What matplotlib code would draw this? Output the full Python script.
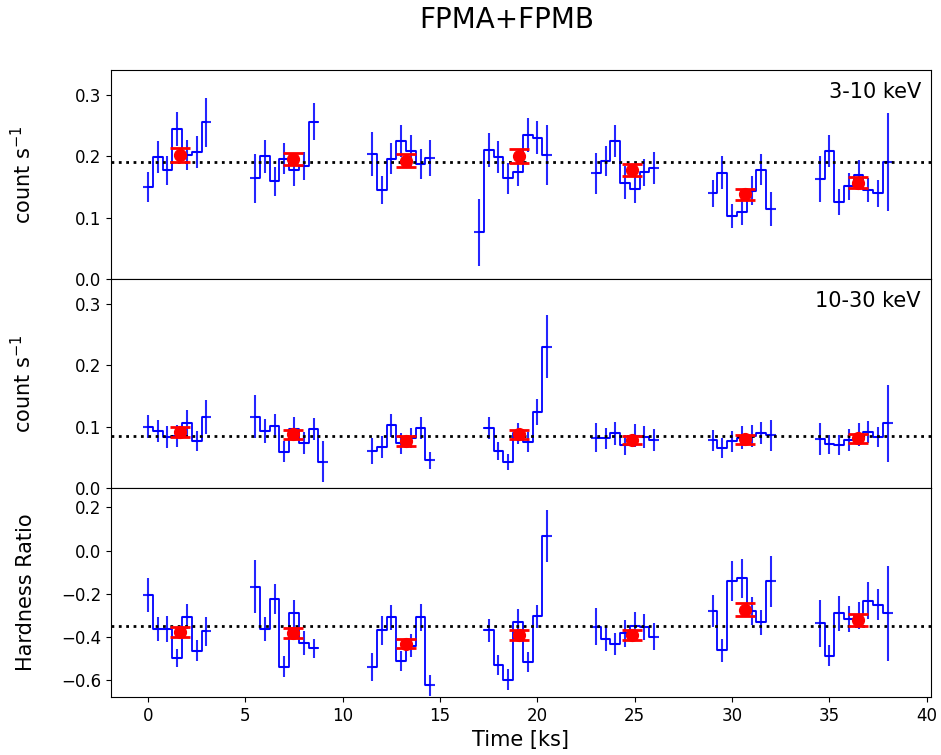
import numpy as np
import matplotlib.pyplot as plt

nan = np.nan

# time bins [ks], one list per orbit
t_bins = [
    [0.0, 0.5, 1.0, 1.5, 2.0, 2.5, 3.0],
    [5.5, 6.0, 6.5, 7.0, 7.5, 8.0, 8.5, 9.0],
    [11.5, 12.0, 12.5, 13.0, 13.5, 14.0, 14.5],
    [17.0, 17.5, 18.0, 18.5, 19.0, 19.5, 20.0, 20.5],
    [23.0, 23.5, 24.0, 24.5, 25.0, 25.5, 26.0],
    [29.0, 29.5, 30.0, 30.5, 31.0, 31.5, 32.0],
    [34.5, 35.0, 35.5, 36.0, 36.5, 37.0, 37.5, 38.0],
]

# 3-10 keV
soft_rate = [
    [0.150, 0.198, 0.177, 0.244, 0.202, 0.207, 0.255],
    [0.164, 0.200, 0.159, 0.196, 0.178, 0.184, 0.256, nan],
    [0.204, 0.145, 0.196, 0.225, 0.208, 0.187, 0.197],
    [0.076, 0.210, 0.198, 0.164, 0.175, 0.235, 0.230, 0.202],
    [0.172, 0.192, 0.225, 0.157, 0.146, 0.174, 0.181],
    [0.140, 0.173, 0.103, 0.109, 0.144, 0.178, 0.114],
    [0.163, 0.208, 0.126, 0.151, 0.170, 0.145, 0.140, 0.191],
]
soft_err = [
    [0.024, 0.026, 0.024, 0.028, 0.025, 0.026, 0.040],
    [0.040, 0.027, 0.023, 0.025, 0.027, 0.023, 0.030, nan],
    [0.036, 0.022, 0.025, 0.026, 0.026, 0.024, 0.030],
    [0.055, 0.027, 0.026, 0.025, 0.024, 0.028, 0.027, 0.049],
    [0.033, 0.025, 0.026, 0.027, 0.022, 0.022, 0.026],
    [0.022, 0.027, 0.020, 0.021, 0.024, 0.025, 0.027],
    [0.037, 0.026, 0.021, 0.022, 0.024, 0.020, 0.022, 0.080],
]

# 10-30 keV
hard_rate = [
    [0.100, 0.093, 0.083, 0.084, 0.106, 0.076, 0.116],
    [0.116, 0.093, 0.101, 0.059, 0.096, 0.073, 0.096, 0.043],
    [0.060, 0.067, 0.102, 0.073, 0.081, 0.098, 0.045],
    [nan, 0.097, 0.060, 0.042, 0.089, 0.075, 0.124, 0.230],
    [0.082, 0.081, 0.089, 0.070, 0.085, 0.083, 0.078],
    [0.078, 0.065, 0.076, 0.082, 0.085, 0.089, 0.086],
    [0.079, 0.071, 0.070, 0.078, 0.087, 0.091, 0.083, 0.105],
]
hard_err = [
    [0.019, 0.018, 0.018, 0.018, 0.021, 0.016, 0.028],
    [0.035, 0.019, 0.019, 0.017, 0.019, 0.018, 0.018, 0.034],
    [0.021, 0.018, 0.019, 0.017, 0.016, 0.018, 0.014],
    [nan, 0.018, 0.015, 0.013, 0.017, 0.016, 0.021, 0.051],
    [0.024, 0.017, 0.019, 0.017, 0.019, 0.018, 0.018],
    [0.017, 0.016, 0.017, 0.019, 0.018, 0.018, 0.025],
    [0.026, 0.016, 0.017, 0.018, 0.018, 0.018, 0.017, 0.062],
]

# hardness ratio
hr = [
    [-0.205, -0.363, -0.363, -0.498, -0.306, -0.464, -0.374],
    [-0.167, -0.363, -0.224, -0.538, -0.291, -0.428, -0.453, nan],
    [-0.538, -0.368, -0.309, -0.510, -0.440, -0.309, -0.623],
    [nan, -0.369, -0.530, -0.597, -0.331, -0.515, -0.303, 0.068],
    [-0.352, -0.410, -0.433, -0.383, -0.348, -0.355, -0.399],
    [-0.278, -0.461, -0.142, -0.128, -0.278, -0.332, -0.142],
    [-0.337, -0.487, -0.291, -0.317, -0.300, -0.232, -0.250, -0.290],
]
hr_err = [
    [0.077, 0.057, 0.062, 0.043, 0.059, 0.048, 0.068],
    [0.124, 0.057, 0.068, 0.049, 0.064, 0.056, 0.045, nan],
    [0.066, 0.067, 0.058, 0.046, 0.053, 0.062, 0.049],
    [nan, 0.054, 0.047, 0.050, 0.060, 0.046, 0.053, 0.121],
    [0.087, 0.056, 0.050, 0.064, 0.066, 0.061, 0.062],
    [0.074, 0.053, 0.093, 0.091, 0.064, 0.058, 0.118],
    [0.107, 0.048, 0.079, 0.060, 0.064, 0.085, 0.073, 0.220],
]

# orbit averages
t_orbit = [1.65, 7.45, 13.25, 19.05, 24.85, 30.65, 36.45]
soft_orbit = [0.202, 0.195, 0.193, 0.200, 0.178, 0.138, 0.157]
soft_orbit_err = [0.011, 0.010, 0.011, 0.011, 0.010, 0.009, 0.009]
hard_orbit = [0.091, 0.0875, 0.077, 0.0875, 0.078, 0.079, 0.081]
hard_orbit_err = [0.0075, 0.0076, 0.008, 0.007, 0.007, 0.007, 0.007]
hr_orbit = [-0.376, -0.382, -0.430, -0.391, -0.391, -0.273, -0.321]
hr_orbit_err = [0.023, 0.023, 0.022, 0.022, 0.023, 0.030, 0.027]

soft_mean = 0.190
hard_mean = 0.085
hr_mean = -0.35

bin_half = 0.25

panels = [
    (soft_rate, soft_err, t_orbit, soft_orbit, soft_orbit_err, soft_mean),
    (hard_rate, hard_err, t_orbit, hard_orbit, hard_orbit_err, hard_mean),
    (hr, hr_err, t_orbit, hr_orbit, hr_orbit_err, hr_mean),
]

fig, axes = plt.subplots(3, 1, sharex=True, figsize=(9.41, 7.55), dpi=100)
fig.subplots_adjust(left=0.118, right=0.989, top=0.907, bottom=0.077, hspace=0)

for ax, (y, e, to, yo, eo, ym) in zip(axes, panels):
    for t, yy, ee in zip(t_bins, y, e):
        ax.step(t, yy, where="mid", color="blue", lw=1.3)
        ax.errorbar(t, yy, xerr=bin_half, yerr=ee, fmt="none",
                    ecolor="blue", elinewidth=1.5, alpha=0.85)
    ax.axhline(ym, color="black", ls=":", lw=2)
    ax.errorbar(to, yo, yerr=eo, fmt="o", color="red", ms=8.5,
                elinewidth=2, capsize=7, capthick=2, zorder=5)
    ax.tick_params(labelsize=12)

axes[0].set_ylim(0, 0.34)
axes[1].set_ylim(0, 0.34)
axes[2].set_ylim(-0.677, 0.29)
axes[0].set_yticks([0.0, 0.1, 0.2, 0.3])
axes[1].set_yticks([0.0, 0.1, 0.2, 0.3])
axes[2].set_yticks([-0.6, -0.4, -0.2, 0.0, 0.2])
axes[2].set_xlim(-1.9, 40.2)
axes[2].set_xticks(range(0, 41, 5))

axes[0].set_ylabel("count s$^{-1}$", fontsize=15)
axes[1].set_ylabel("count s$^{-1}$", fontsize=15)
axes[2].set_ylabel("Hardness Ratio", fontsize=15)
axes[2].set_xlabel("Time [ks]", fontsize=15)
for ax in axes:
    ax.yaxis.set_label_coords(-0.092, 0.5)

axes[0].text(0.988, 0.895, "3-10 keV", transform=axes[0].transAxes,
             ha="right", va="center", fontsize=15)
axes[1].text(0.988, 0.895, "10-30 keV", transform=axes[1].transAxes,
             ha="right", va="center", fontsize=15)

fig.suptitle("FPMA+FPMB", x=0.538, y=0.974, fontsize=20, va="center")

fig.savefig("out.png", dpi=100)
